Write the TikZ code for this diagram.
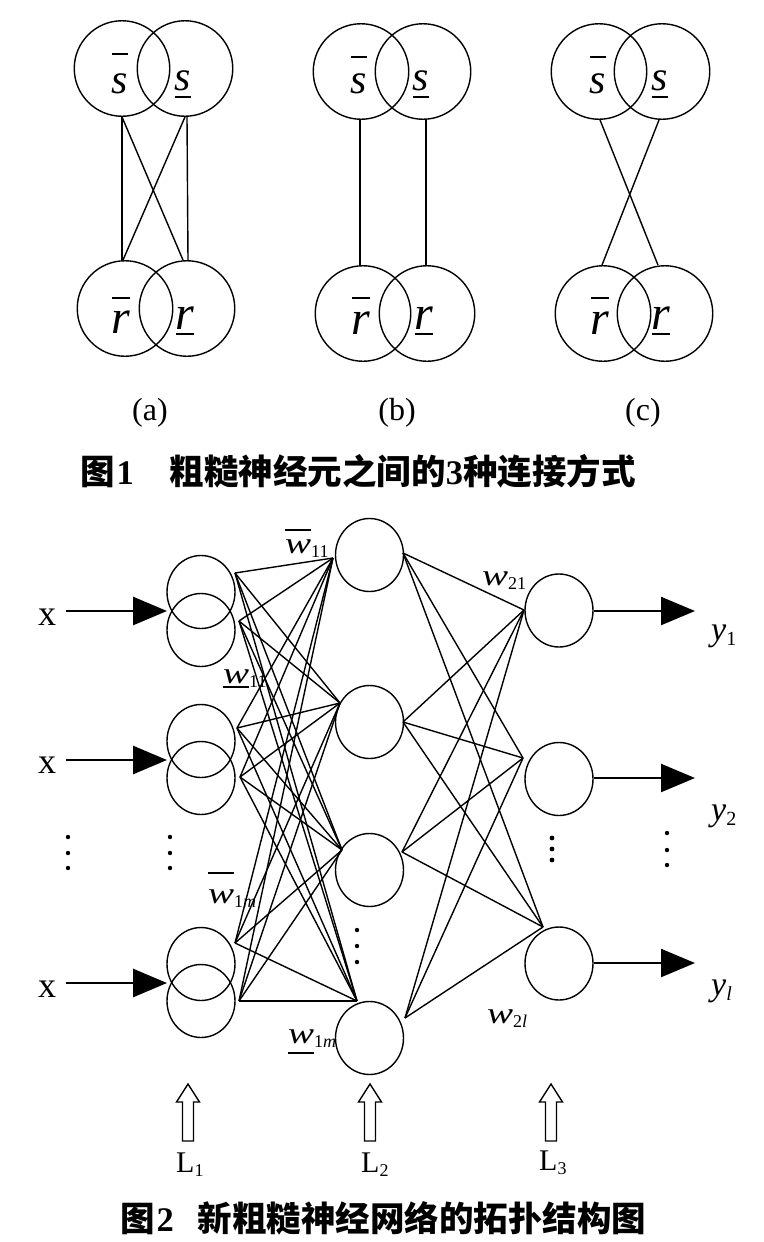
\documentclass[tikz,border=0pt]{standalone}
\usepackage{graphicx}
\usepackage{fontspec}
\setmainfont{Liberation Serif}
\newfontfamily\cjk{Noto Sans CJK SC}
\usetikzlibrary{shapes.geometric,arrows.meta}
\newcommand\fs[1]{\fontsize{#1}{#1}\selectfont}
\newcommand\ovl[2]{\setbox0\hbox{#2}\rlap{\raisebox{#1}{\rule{\wd0}{2pt}}}\box0}
\newcommand\unl[2]{\setbox0\hbox{#2}\rlap{\raisebox{-#1}{\rule{\wd0}{2pt}}}\box0}
\newcommand\wl{\scalebox{1.3}[1]{\textit{w}}}
\tikzset{
  bigring/.style={circle,draw,line width=1.4pt,minimum size=95.5pt,inner sep=0pt},
  ring/.style={ellipse,draw,line width=1.4pt,minimum width=68pt,minimum height=73pt,inner sep=0pt},
  wire/.style={line width=1.4pt},
  inarr/.style={line width=2.8pt,-{Triangle[length=34pt,width=28pt]}},
  outarr/.style={line width=2.2pt,-{Triangle[length=34pt,width=28pt]}},
  lab/.style={inner sep=0pt,anchor=base},
  labw/.style={inner sep=0pt,anchor=base west},
  hollow/.style={line width=1.4pt},
}
\begin{document}
\begin{tikzpicture}[x=1pt,y=-1pt]
\useasboundingbox (0,0) rectangle (763,1242);
\fill[white] (0,0) rectangle (763,1242);

% ---------- Figure 1 ----------
% (a)
\node[bigring] (aS1) at (122,68.5) {};
\node[bigring] (aS2) at (185,68.5) {};
\node[bigring] (aR1) at (125,308.5) {};
\node[bigring] (aR2) at (187,308.5) {};
\draw[wire] (aS1.south) -- (aS1.south |- aR1.north);
\draw[wire] ([xshift=2pt]aS2.south) -- ([xshift=1pt]aR2.north);
\draw[wire] (aS1.south) -- ([xshift=-4pt]aR2.north);
\draw[wire] (aS2.south) -- ([xshift=-2pt]aR1.north);
% (b)
\node[bigring] (bS1) at (361,71.5) {};
\node[bigring] (bS2) at (423,71.5) {};
\node[bigring] (bR1) at (363,313.5) {};
\node[bigring] (bR2) at (427,313.5) {};
\draw[wire] ([xshift=-1pt]bS1.south) -- ([xshift=-1pt]bS1.south |- bR1.north);
\draw[wire] ([xshift=3pt]bS2.south) -- ([xshift=3pt]bS2.south |- bR2.north);
% (c)
\node[bigring] (cS1) at (599,71.5) {};
\node[bigring] (cS2) at (662,71.5) {};
\node[bigring] (cR1) at (603,313.5) {};
\node[bigring] (cR2) at (665,313.5) {};
\draw[wire] ([xshift=1pt]cS1.south) -- ([xshift=-7pt]cR2.north);
\draw[wire] ([xshift=-3pt]cS2.south) -- ([xshift=-1pt]cR1.north);

% labels fig 1
\node[lab] (aso) at (120,93) {\fs{42}\ovl{38pt}{\textit{s}}};
\node[lab] (asu) at (183,90) {\fs{42}\unl{7.5pt}{\textit{s}}};
\node[lab] (aro) at (121,333) {\fs{48}\ovl{34pt}{\textit{r}}};
\node[lab] (aru) at (185,329) {\fs{48}\unl{5.5pt}{\textit{r}}};
\node[lab] (bso) at (359,93) {\fs{42}\ovl{35pt}{\textit{s}}};
\node[lab] (bsu) at (421,90) {\fs{42}\unl{7.5pt}{\textit{s}}};
\node[lab] (bro) at (361,334) {\fs{48}\ovl{35pt}{\textit{r}}};
\node[lab] (bru) at (424,329) {\fs{48}\unl{5.5pt}{\textit{r}}};
\node[lab] (cso) at (598,93) {\fs{42}\ovl{35pt}{\textit{s}}};
\node[lab] (csu) at (660,90) {\fs{42}\unl{7.5pt}{\textit{s}}};
\node[lab] (cro) at (600,334) {\fs{48}\ovl{35pt}{\textit{r}}};
\node[lab] (cru) at (661,329) {\fs{48}\unl{5.5pt}{\textit{r}}};

\node[lab] (capa) at (150,420) {\fs{32}(a)};
\node[lab] (capb) at (397,420) {\fs{32}(b)};
\node[lab] (capc) at (643,420) {\fs{32}(c)};

\node[labw] (cap1) at (80,484) {\fs{34.5}{\cjk\bfseries 图}\hspace{2pt}\textbf{1}\hspace{36pt}{\cjk\bfseries 粗糙神经元之间的}\textbf{3}{\cjk\bfseries 种连接方式}};

% ---------- Figure 2 ----------
% L1 groups
\node[ring] (u1) at (201,592) {};
\node[ring] (d1) at (201,630) {};
\node[ring] (u2) at (201,741) {};
\node[ring] (d2) at (201,778) {};
\node[ring] (u3) at (201,964) {};
\node[ring] (d3) at (201,1001) {};
% L2
\node[ring] (m1) at (369.5,555) {};
\node[ring] (m2) at (369.5,722) {};
\node[ring] (m3) at (369.5,870) {};
\node[ring] (m4) at (369.5,1038) {};
% L3
\node[ring] (o1) at (559,610.5) {};
\node[ring] (o2) at (559,779) {};
\node[ring] (o3) at (559,963.5) {};

% ports
\coordinate (a1) at (235,573);
\coordinate (b1) at (239,621);
\coordinate (a2) at (237,728);
\coordinate (b2) at (240,777);
\coordinate (a3) at (235,943);
\coordinate (b3) at (239,1001);
\coordinate (t1) at (333,558);
\coordinate (t2) at (340,703);
\coordinate (t3) at (342,850);
\coordinate (t4) at (357,1001);
\coordinate (s1) at (403,553);
\coordinate (s2) at (403,722);
\coordinate (s3) at (402,852);
\coordinate (s4) at (405,1018);
\coordinate (e1) at (524,610);
\coordinate (e2) at (523,758);
\coordinate (e3) at (543,927);

\foreach \p in {a1,b1,a2,b2,a3,b3}
  \foreach \q in {t1,t2,t3,t4}
    \draw[wire] (\p) -- (\q);
\foreach \p in {s1,s2,s3,s4}
  \foreach \q in {e1,e2,e3}
    \draw[wire] (\p) -- (\q);

% inputs
\node[lab] (x1) at (47,625) {\fs{36}x};
\node[lab] (x2) at (47,773) {\fs{36}x};
\node[lab] (x3) at (47,997) {\fs{36}x};
\coordinate (in1) at (167,611);
\coordinate (in2) at (167,760);
\coordinate (in3) at (167,983);
\draw[inarr] ([xshift=10pt]x1.east |- in1) -- (in1);
\draw[inarr] ([xshift=10pt]x2.east |- in2) -- (in2);
\draw[inarr] ([xshift=10pt]x3.east |- in3) -- (in3);

% outputs
\coordinate (out1) at (695,611);
\coordinate (out2) at (695,778);
\coordinate (out3) at (695,963);
\draw[outarr] (o1.east |- out1) -- (out1);
\draw[outarr] (o2.east |- out2) -- (out2);
\draw[outarr] (o3.east |- out3) -- (out3);
\node[labw] (y1) at (711,640) {\fs{34}\textit{y}\raisebox{-5pt}{\fs{20}1}};
\node[labw] (y2) at (711,820) {\fs{34}\textit{y}\raisebox{-5pt}{\fs{20}2}};
\node[labw] (y3) at (711,995) {\fs{34}\textit{y}\raisebox{-5pt}{\fs{20}\textit{l}}};

% dots
\foreach \yy in {837,853,868} {\fill (68,\yy) circle (2.2pt); \fill (170,\yy) circle (2.2pt);}
\foreach \yy in {930,946,962} {\fill (357,\yy) circle (2.2pt);}
\foreach \yy in {838,849,860} {\fill (552,\yy) circle (2.4pt);}
\foreach \yy in {833,850,865} {\fill (667,\yy) circle (2.2pt);}

% weight labels
\node[labw] (wo11) at (285,553) {\fs{30}\ovl{22pt}{\wl}\raisebox{-4pt}{\fs{18}11}};
\node[labw] (wu11) at (223,683) {\fs{30}\unl{5pt}{\wl}\raisebox{-4pt}{\fs{18}11}};
\node[labw] (wo1m) at (208,903) {\fs{30}\ovl{29pt}{\wl}\raisebox{-4pt}{\fs{18}1\textit{m}}};
\node[labw] (wu1m) at (288,1043) {\fs{30}\unl{11pt}{\wl}\raisebox{-4pt}{\fs{18}1\textit{m}}};
\node[labw] (w21) at (482,585) {\fs{30}\wl\raisebox{-4pt}{\fs{18}21}};
\node[labw] (w2l) at (487,1023) {\fs{30}\wl\raisebox{-4pt}{\fs{18}2\textit{l}}};

% layer arrows
\foreach \cx/\nm in {188/h1,370/h2,551/h3}
  \draw[hollow] (\cx,1084) -- (\cx+11.5,1102) -- (\cx+5.5,1102) -- (\cx+5.5,1141)
     -- (\cx-5.5,1141) -- (\cx-5.5,1102) -- (\cx-11.5,1102) -- cycle;
\node[labw] (L1) at (176,1172) {\fs{30}L\raisebox{-4pt}{\fs{18}1}};
\node[labw] (L2) at (361,1172) {\fs{30}L\raisebox{-4pt}{\fs{18}2}};
\node[labw] (L3) at (539,1170) {\fs{30}L\raisebox{-4pt}{\fs{18}3}};

\node[labw] (cap2) at (120,1231) {\fs{34.5}{\cjk\bfseries 图}\hspace{2pt}\textbf{2}\hspace{24pt}{\cjk\bfseries 新粗糙神经网络的拓扑结构图}};
\end{tikzpicture}
\end{document}
